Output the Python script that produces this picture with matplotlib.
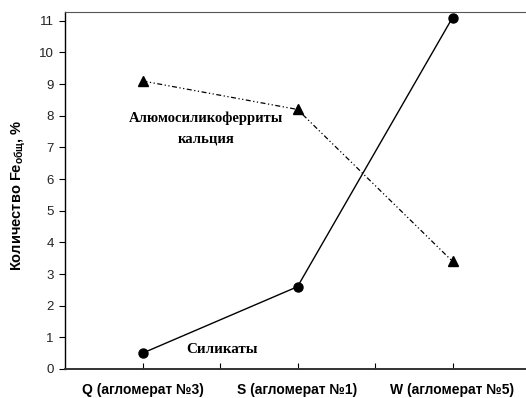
import matplotlib
matplotlib.use('Agg')
import matplotlib.pyplot as plt

plt.rcParams['font.family'] = ['Liberation Sans', 'DejaVu Sans']
plt.rcParams['mathtext.fontset'] = 'custom'
plt.rcParams['mathtext.rm'] = 'Liberation Sans:bold'
plt.rcParams['mathtext.default'] = 'rm'

# sinter samples and Fe content in each phase
samples = ['Q (агломерат №3)', 'S (агломерат №1)', 'W (агломерат №5)']
sample_pos = [1, 3, 5]
silicates = [0.5, 2.6, 11.1]
ferrites = [9.1, 8.2, 3.4]
yticks = list(range(0, 12))

fig = plt.figure(figsize=(5.26, 3.98), dpi=100)
ax = fig.add_axes([0.1236, 0.0729, 0.884, 0.897])

ax.plot(sample_pos, silicates, color='black', lw=1.0, marker='o', ms=6.5)
ax.plot(sample_pos, ferrites, color='black', lw=0.9, dashes=(4, 2, 1, 2, 1, 2),
        marker='^', ms=6.5)

ax.set_xlim(0, 6)
ax.set_ylim(0, 11.28)
ax.set_yticks(yticks)
ax.set_yticklabels([str(v) for v in yticks], fontsize=9.5, color='#222222')
ax.set_xticks([1, 2, 3, 4, 5])
ax.set_xticklabels([])
ax.tick_params(axis='x', direction='in', length=4, width=0.8)
ax.tick_params(axis='y', direction='out', length=4, width=0.8, pad=4)

for x, name in zip(sample_pos, samples):
    ax.text(x, -0.45, name, ha='center', va='top', fontsize=10,
            fontweight='bold')

ax.spines['right'].set_visible(False)
ax.spines['top'].set_color('#555555')
ax.spines['left'].set_linewidth(1.0)
ax.spines['bottom'].set_linewidth(1.4)
ax.spines['bottom'].set_color('#333333')

fig.text(0.036, 0.51, 'Количество Fe$_{общ}$, %', rotation=90,
         ha='center', va='center', fontsize=10.5, fontweight='bold')

ax.text(2.02, 0.6, 'Силикаты', fontsize=10.8, fontweight='bold',
        family='Liberation Serif', ha='center', va='center')
ax.text(1.82, 7.6, 'Алюмосиликоферриты\nкальция', fontsize=10.5,
        fontweight='bold', family='Liberation Serif', ha='center',
        va='center', linespacing=1.7)

fig.savefig('out.png', dpi=100)
